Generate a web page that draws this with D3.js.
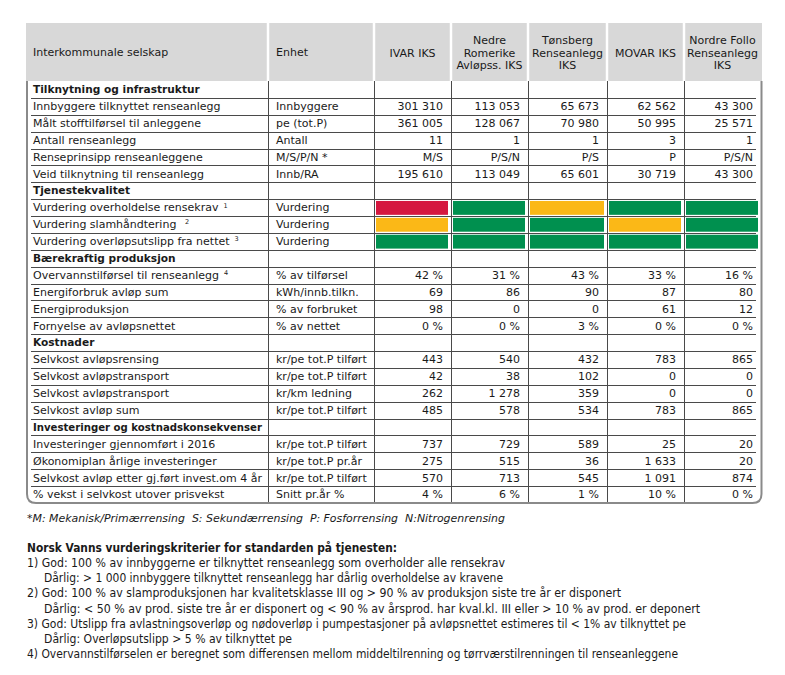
<!DOCTYPE html>
<html><head><meta charset="utf-8">
<script src="https://cdn.jsdelivr.net/npm/d3@7"></script>
<style>
body{margin:0;background:#fff;}
svg{display:block;}
text{font-family:"DejaVu Sans",Verdana,sans-serif;fill:#1a1a1a;white-space:pre;}
</style></head>
<body>
<svg id="c" width="785" height="675"></svg>
<script>
// ---------- DATA ----------
const headerLabel = "Interkommunale selskap";
const unitHeader = "Enhet";
const companies = ["IVAR IKS", "Nedre Romerike Avløpss. IKS", "Tønsberg Renseanlegg IKS", "MOVAR IKS", "Nordre Follo Renseanlegg IKS"];
const companyHeaderLines = [["IVAR IKS"], ["Nedre", "Romerike", "Avløpss. IKS"], ["Tønsberg", "Renseanlegg", "IKS"], ["MOVAR IKS"], ["Nordre Follo", "Renseanlegg", "IKS"]];

const rowLabels = [
  "Tilknytning og infrastruktur",
  "Innbyggere tilknyttet renseanlegg",
  "Målt stofftilførsel til anleggene",
  "Antall renseanlegg",
  "Renseprinsipp renseanleggene",
  "Veid tilknytning til renseanlegg",
  "Tjenestekvalitet",
  "Vurdering overholdelse rensekrav",
  "Vurdering slamhåndtering ",
  "Vurdering overløpsutslipp fra nettet",
  "Bærekraftig produksjon",
  "Overvannstilførsel til renseanlegg",
  "Energiforbruk avløp sum",
  "Energiproduksjon",
  "Fornyelse av avløpsnettet",
  "Kostnader",
  "Selvkost avløpsrensing",
  "Selvkost avløpstransport",
  "Selvkost avløpstransport",
  "Selvkost avløp sum",
  "Investeringer og kostnadskonsekvenser",
  "Investeringer gjennomført i 2016",
  "Økonomiplan årlige investeringer",
  "Selvkost avløp etter gj.ført invest.om 4 år",
  "% vekst i selvkost utover prisvekst"
];
const rowNotes = [null,null,null,null,null,null,null,"1","2","3",null,"4",null,null,null,null,null,null,null,null,null,null,null,null,null];
const sectionRows = [0, 6, 10, 15, 20];
const units = [
  "", "Innbyggere", "pe (tot.P)", "Antall", "M/S/P/N *", "Innb/RA",
  "", "Vurdering", "Vurdering", "Vurdering",
  "", "% av tilførsel", "kWh/innb.tilkn.", "% av forbruket", "% av nettet",
  "", "kr/pe tot.P tilført", "kr/pe tot.P tilført", "kr/km ledning", "kr/pe tot.P tilført",
  "", "kr/pe tot.P tilført", "kr/pe tot.P pr.år", "kr/pe tot.P tilført", "Snitt pr.år %"
];
const ratingLevels = ["Dårlig", "Middels", "God"];

const ivar     = [null,"301 310","361 005","11","M/S","195 610",null,"Dårlig","Middels","God",null,"42 %","69","98","0 %",null,"443","42","262","485",null,"737","275","570","4 %"];
const nedre    = [null,"113 053","128 067","1","P/S/N","113 049",null,"God","God","God",null,"31 %","86","0","0 %",null,"540","38","1 278","578",null,"729","515","713","6 %"];
const tonsberg = [null,"65 673","70 980","1","P/S","65 601",null,"Middels","God","God",null,"43 %","90","0","3 %",null,"432","102","359","534",null,"589","36","545","1 %"];
const movar    = [null,"62 562","50 995","3","P","30 719",null,"God","Middels","God",null,"33 %","87","61","0 %",null,"783","0","0","783",null,"25","1 633","1 091","10 %"];
const follo    = [null,"43 300","25 571","1","P/S/N","43 300",null,"God","God","God",null,"16 %","80","12","0 %",null,"865","0","0","865",null,"20","20","874","0 %"];
const seriesValues = [ivar, nedre, tonsberg, movar, follo];

const footLegend = "*M: Mekanisk/Primærrensing  S: Sekundærrensing  P: Fosforrensing  N:Nitrogenrensing";
const criteriaTitle = "Norsk Vanns vurderingskriterier for standarden på tjenesten:";
const criteriaLines = [
  {t:"1) God: 100 % av innbyggerne er tilknyttet renseanlegg som overholder alle rensekrav", indent:false},
  {t:"Dårlig: > 1 000 innbyggere tilknyttet renseanlegg har dårlig overholdelse av kravene", indent:true},
  {t:"2) God: 100 % av slamproduksjonen har kvalitetsklasse III og > 90 % av produksjon siste tre år er disponert", indent:false},
  {t:"Dårlig: < 50 % av prod. siste tre år er disponert og < 90 % av årsprod. har kval.kl. III eller > 10 % av prod. er deponert", indent:true},
  {t:"3) God: Utslipp fra avlastningsoverløp og nødoverløp i pumpestasjoner på avløpsnettet estimeres til < 1% av tilknyttet pe", indent:false},
  {t:"Dårlig: Overløpsutslipp > 5 % av tilknyttet pe", indent:true},
  {t:"4) Overvannstilførselen er beregnet som differensen mellom middeltilrenning og tørrværstilrenningen til renseanleggene", indent:false}
];

// ---------- LAYOUT ----------
const svg = d3.select("#c");
const colEdges = [26, 268, 374, 451, 528, 607, 684, 761];
const headTop = 23, headBottom = 81, tableBottom = 503;
const fs = 11;

const y = d3.scaleBand().domain(d3.range(rowLabels.length)).range([headBottom, tableBottom]);
const xCol = d3.scaleOrdinal().domain(d3.range(companies.length)).range(d3.range(companies.length).map(i => colEdges[i + 2]));
const colW = i => colEdges[i + 3] - colEdges[i + 2];
const ratingColor = d3.scaleOrdinal().domain(ratingLevels).range(["#d5173f", "#fbb817", "#00904f"]);

// header background
svg.append("rect").attr("x", colEdges[0]).attr("y", headTop)
  .attr("width", colEdges[7] - colEdges[0] + 1).attr("height", headBottom - headTop).attr("fill", "#d8d8d8");
svg.selectAll("line.hsep").data(colEdges.slice(1, 7)).join("line")
  .attr("x1", d => d).attr("x2", d => d).attr("y1", headTop).attr("y2", headBottom)
  .attr("stroke", "#fff").attr("stroke-width", 2.5);

// header texts
const headMid = (headTop + headBottom) / 2;
svg.append("text").attr("x", 33).attr("y", headMid).attr("dy", "0.35em").attr("font-size", fs).text(headerLabel);
svg.append("text").attr("x", 276).attr("y", headMid).attr("dy", "0.35em").attr("font-size", fs).text(unitHeader);
companyHeaderLines.forEach((lines, i) => {
  const cx = xCol(i) + colW(i) / 2;
  const n = lines.length;
  svg.append("text").attr("text-anchor", "middle").attr("font-size", fs)
    .selectAll("tspan").data(lines).join("tspan")
    .attr("x", cx).attr("y", (d, k) => headMid + 1 + (k - (n - 1) / 2) * 12.5).attr("dy", "0.35em")
    .text(d => d);
});

// grid
const inner = [31, 756];
svg.selectAll("line.row").data(d3.range(1, rowLabels.length)).join("line")
  .attr("x1", inner[0]).attr("x2", inner[1])
  .attr("y1", d => Math.round(y(d)) + 0.5).attr("y2", d => Math.round(y(d)) + 0.5)
  .attr("stroke", "#4a4a4a").attr("stroke-width", 1);
svg.selectAll("line.vcol").data(colEdges.slice(1, 7)).join("line")
  .attr("x1", d => d + 0.5).attr("x2", d => d + 0.5).attr("y1", headBottom).attr("y2", tableBottom - 1)
  .attr("stroke", "#4a4a4a").attr("stroke-width", 1);

// rating colour cells
seriesValues.forEach((vals, ci) => {
  vals.forEach((v, ri) => {
    if (ratingLevels.includes(v)) {
      svg.append("rect")
        .attr("x", xCol(ci) + 2).attr("y", y(ri) + 1.8)
        .attr("width", colW(ci) - 5).attr("height", y.bandwidth() - 3)
        .attr("fill", ratingColor(v));
    }
  });
});

// frame
const r = 9, L = colEdges[0] + 1, R = colEdges[7] + 0.5, B = tableBottom;
svg.append("path")
  .attr("d", `M${L},${headBottom} L${L},${B - r} Q${L},${B} ${L + r},${B} L${R - r},${B} Q${R},${B} ${R},${B - r} L${R},${headBottom}`)
  .attr("fill", "none").attr("stroke", "#8a8a8a").attr("stroke-width", 2);

// row labels
const maxLabelW = 229;
const lab = svg.selectAll("text.lab").data(rowLabels).join("text")
  .attr("class", "lab").attr("x", 33).attr("y", (d, i) => y(i) + y.bandwidth() / 2).attr("dy", "0.35em")
  .attr("font-size", (d, i) => sectionRows.includes(i) ? 10.6 : fs)
  .attr("font-weight", (d, i) => sectionRows.includes(i) ? "bold" : "normal");
lab.each(function(d, i) {
  const t = d3.select(this);
  const main = t.append("tspan").text(d);
  if (rowNotes[i]) t.append("tspan").attr("font-size", 6.5).attr("dx", 5).attr("dy", "-0.6em").text(rowNotes[i]);
  const w = this.getComputedTextLength();
  if (!rowNotes[i] && w > maxLabelW) {
    t.attr("textLength", maxLabelW).attr("lengthAdjust", "spacingAndGlyphs");
  }
});

// units
svg.selectAll("text.unit").data(units).join("text")
  .attr("x", 276).attr("y", (d, i) => y(i) + y.bandwidth() / 2).attr("dy", "0.35em")
  .attr("font-size", fs).text(d => d);

// values
seriesValues.forEach((vals, ci) => {
  svg.selectAll(null).data(vals.map((v, ri) => ({v, ri})).filter(d => d.v !== null && !ratingLevels.includes(d.v)))
    .join("text")
    .attr("x", xCol(ci) + colW(ci) - 8).attr("y", d => y(d.ri) + y.bandwidth() / 2).attr("dy", "0.35em")
    .attr("text-anchor", "end").attr("font-size", fs).text(d => d.v);
});

// footnotes
svg.append("text").attr("x", 27).attr("y", 518).attr("dy", "0.35em").attr("font-size", 11)
  .attr("font-style", "italic").attr("textLength", 505 - 27).attr("lengthAdjust", "spacingAndGlyphs").text(footLegend);
const condensed = "'DejaVu Sans Condensed', 'DejaVu Sans', sans-serif";
const fy = [562.5, 578, 593, 608.5, 623.5, 639, 654];
const fEnd = [505, 503, 621, 700, 686, 292, 678];
svg.append("text").attr("x", 27).attr("y", 548).attr("dy", "0.35em").attr("font-size", 12)
  .attr("font-weight", "bold").style("font-family", condensed)
  .attr("textLength", 397 - 27).attr("lengthAdjust", "spacingAndGlyphs").text(criteriaTitle);
criteriaLines.forEach((l, i) => {
  const x0 = l.indent ? 44 : 27;
  svg.append("text").attr("x", x0).attr("y", fy[i]).attr("dy", "0.35em").attr("font-size", 12)
    .style("font-family", condensed)
    .attr("textLength", fEnd[i] - x0).attr("lengthAdjust", "spacingAndGlyphs").text(l.t);
});
</script>
</body></html>
